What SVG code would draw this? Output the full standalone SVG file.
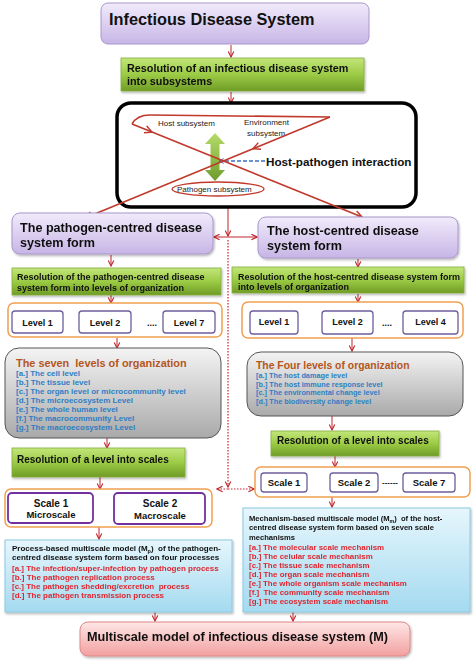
<svg xmlns="http://www.w3.org/2000/svg" width="474" height="662" viewBox="0 0 474 662">
<defs>
<linearGradient id="gPur" x1="0" y1="0" x2="0" y2="1"><stop offset="0" stop-color="#f1ebfb"/><stop offset="1" stop-color="#c7b5e6"/></linearGradient>
<linearGradient id="gGrn" x1="0" y1="0" x2="0" y2="1"><stop offset="0" stop-color="#c2e67a"/><stop offset="0.5" stop-color="#9ccb45"/><stop offset="1" stop-color="#6f9c26"/></linearGradient>
<linearGradient id="gGry" x1="0" y1="0" x2="0" y2="1"><stop offset="0" stop-color="#f4f4f4"/><stop offset="1" stop-color="#a9a9a9"/></linearGradient>
<linearGradient id="gBlu" x1="0" y1="0" x2="0" y2="1"><stop offset="0" stop-color="#e6f6fc"/><stop offset="1" stop-color="#a4daf0"/></linearGradient>
<linearGradient id="gPnk" x1="0" y1="0" x2="0" y2="1"><stop offset="0" stop-color="#fee6e6"/><stop offset="1" stop-color="#f2a0a0"/></linearGradient>
<linearGradient id="gArr" x1="0" y1="0" x2="0" y2="1"><stop offset="0" stop-color="#b6dc6a"/><stop offset="1" stop-color="#6e9c2c"/></linearGradient>
<filter id="sh" x="-10%" y="-10%" width="130%" height="140%"><feDropShadow dx="1" dy="1.5" stdDeviation="1" flood-color="#000" flood-opacity="0.3"/></filter>
<marker id="ah" viewBox="0 0 10 10" refX="9" refY="5" markerWidth="7" markerHeight="7" markerUnits="userSpaceOnUse" orient="auto-start-reverse"><path d="M1,1 L9,5 L1,9" fill="none" stroke="#c0272d" stroke-width="1.6"/></marker>
<marker id="ahL" viewBox="0 0 10 10" refX="9" refY="5" markerWidth="9" markerHeight="9" markerUnits="userSpaceOnUse" orient="auto"><path d="M1,1 L9,5 L1,9" fill="none" stroke="#c0392b" stroke-width="1.6"/></marker>
<marker id="ahB" viewBox="0 0 10 10" refX="9" refY="5" markerWidth="6" markerHeight="6" markerUnits="userSpaceOnUse" orient="auto"><path d="M1,1 L9,5 L1,9" fill="none" stroke="#3b6fc2" stroke-width="1.6"/></marker>
</defs>
<style>
text{font-family:"Liberation Sans",Arial,sans-serif;font-weight:bold;fill:#111}
.n{font-weight:normal;fill:#222}
.pur{fill:url(#gPur);stroke:#a898cc;stroke-width:1}
.grn{fill:url(#gGrn);stroke:#86ad3e;stroke-width:0.8}
.gry{fill:url(#gGry);stroke:#555;stroke-width:1}
.blu{fill:url(#gBlu);stroke:#8ccae2;stroke-width:1}
.org{fill:#fff;stroke:#f0a052;stroke-width:1.5}
.lvl{fill:#fff;stroke:#6e5d9e;stroke-width:1.3}
.scl{fill:#fff;stroke:#7030a0;stroke-width:1.8}
.rd{fill:#e0262f}
.bl{fill:#2f7ec4}
.ot{fill:#b5561d}
.ar{fill:none;stroke:#c0272d;stroke-width:1;marker-end:url(#ah)}
.dt{fill:none;stroke:#d0202a;stroke-width:1.2;stroke-dasharray:1.5,1.5}
.c{text-anchor:middle}
</style>

<g id="connectors">
<path class="ar" d="M231,45 V57"/>
<path class="ar" d="M231,92 V103"/>
<path class="ar" d="M111,255 V266"/>
<path class="ar" d="M111,295 V303"/>
<path class="ar" d="M358,259 V267"/>
<path class="ar" d="M358,294 V302"/>
<path class="ar" d="M117,338 V348"/>
<path class="ar" d="M352,338 V351"/>
<path class="ar" d="M107,438 V448"/>
<path class="ar" d="M332,416 V430"/>
<path class="ar" d="M100,477 V489"/>
<path class="ar" d="M335,456 V467"/>
<path class="ar" d="M99,527 V539"/>
<path class="ar" d="M332,497 V507"/>
<path class="ar" d="M155,612 V621"/>
<path class="ar" d="M293,612 V621"/>
<path class="ar" d="M298,321 H322" style="marker-start:url(#ah)"/>
<path class="ar" d="M93,508 H114" style="marker-start:url(#ah)"/>
<path class="ar" d="M307,483 H330" style="marker-start:url(#ah)"/>
<path class="ar" d="M228,196 V236"/>
<path class="ar" d="M228,237 H214" />
<path class="ar" d="M228,237 H257" />
<path class="dt" d="M228,240 V487" style="marker-end:url(#ah)"/>
<path class="dt" d="M228,489 H217" style="marker-end:url(#ah)"/>
<path class="dt" d="M228,489 H254" style="marker-end:url(#ah)"/>
</g>

<g id="title"><rect class="pur" x="101" y="3" width="268" height="41" rx="7"/><text x="109" y="25" font-size="16.3">Infectious Disease System</text></g>

<g id="resolution-subsystems" filter="url(#sh)"><rect class="grn" x="121" y="58" width="243" height="33"/><text x="127" y="72" font-size="10.8">Resolution of an infectious disease system</text><text x="127" y="85" font-size="10.8">into subsystems</text></g>

<g id="subsystems">
<rect x="117" y="103" width="299" height="104" rx="14" fill="#fff" stroke="#000" stroke-width="3.5"/>
<polygon points="215,133 225,144 219.5,144 219.5,170 225,170 215,181 205,170 210.5,170 210.5,144 205,144" fill="url(#gArr)"/>
<text class="n" x="158" y="126" font-size="8">Host subsystem</text>
<text class="n" x="244" y="125" font-size="8">Environment</text>
<text class="n" x="247" y="136" font-size="8">subsystem</text>
<ellipse cx="218" cy="189" rx="46" ry="7" fill="none" stroke="#c0392b" stroke-width="1.3"/>
<text class="n" x="177" y="192" font-size="8">Pathogen subsystem</text>
<path d="M265,161 H219" fill="none" stroke="#3b6fc2" stroke-width="1.3" stroke-dasharray="4,2" marker-end="url(#ahB)"/>
<text x="266" y="166" font-size="11.7">Host-pathogen interaction</text>
<path d="M132,124 Q137,115 150,115 L330,117" fill="none" stroke="#c0392b" stroke-width="1.6"/>
<path d="M132,124 L152,132.1 L362,217" fill="none" stroke="#c0392b" stroke-width="1.6" marker-mid="url(#ahL)" marker-end="url(#ahL)"/>
<path d="M330,117 L253,148.7 L85,218" fill="none" stroke="#c0392b" stroke-width="1.6" marker-mid="url(#ahL)" marker-end="url(#ahL)"/>
</g>

<g id="pathogen-form" filter="url(#sh)"><rect class="pur" x="12" y="213" width="201" height="41" rx="8"/><text x="20" y="232" font-size="12.6">The pathogen-centred disease</text><text x="20" y="247" font-size="12.6">system form</text></g>
<g id="host-form" filter="url(#sh)"><rect class="pur" x="258" y="217" width="200" height="41" rx="8"/><text x="267" y="235" font-size="12.6">The host-centred disease</text><text x="267" y="250" font-size="12.6">system form</text></g>

<g id="resolution-pathogen-levels" filter="url(#sh)"><rect class="grn" x="12" y="268" width="209" height="27"/><text x="17" y="280" font-size="9">Resolution of the pathogen-centred disease</text><text x="17" y="291" font-size="9">system form into levels of organization</text></g>
<g id="resolution-host-levels" filter="url(#sh)"><rect class="grn" x="232" y="267" width="232" height="26"/><text x="238" y="279.5" font-size="9">Resolution of the host-centred disease system form</text><text x="238" y="289.5" font-size="9">into levels of organization</text></g>

<g id="pathogen-levels">
<rect class="org" x="8" y="303" width="214" height="34" rx="6"/>
<rect class="lvl" x="12" y="311" width="51" height="22" rx="3"/><text class="c" x="37.5" y="325.5" font-size="9">Level 1</text>
<rect class="lvl" x="79" y="311" width="52" height="22" rx="3"/><text class="c" x="105" y="325.5" font-size="9">Level 2</text>
<text x="147" y="326" font-size="9">....</text>
<rect class="lvl" x="163" y="311" width="52" height="22" rx="3"/><text class="c" x="189" y="325.5" font-size="9">Level 7</text>
</g>
<g id="host-levels">
<rect class="org" x="242" y="302" width="221" height="36" rx="6"/>
<rect class="lvl" x="250" y="311" width="48" height="23" rx="3"/><text class="c" x="274" y="325" font-size="9">Level 1</text>
<rect class="lvl" x="322" y="311" width="51" height="23" rx="3"/><text class="c" x="347.5" y="325" font-size="9">Level 2</text>
<text x="382" y="326" font-size="9">....</text>
<rect class="lvl" x="403" y="311" width="55" height="23" rx="3"/><text class="c" x="430.5" y="325" font-size="9">Level 4</text>
</g>

<g id="seven-levels">
<rect class="gry" x="5" y="348" width="216" height="90" rx="14"/>
<text class="ot" x="16" y="367" font-size="10.9" xml:space="preserve">The seven  levels of organization</text>
<text class="bl" x="16" y="376" font-size="8">[a.] The cell level</text>
<text class="bl" x="16" y="385" font-size="8">[b.] The tissue level</text>
<text class="bl" x="16" y="394" font-size="8">[c.] The organ level or microcommunity level</text>
<text class="bl" x="16" y="403" font-size="8">[d.] The microecosystem Level</text>
<text class="bl" x="16" y="412" font-size="8">[e.] The whole human level</text>
<text class="bl" x="16" y="421" font-size="8">[f.] The macrocommunity Level</text>
<text class="bl" x="16" y="430" font-size="8">[g.] The macroecosystem Level</text>
</g>
<g id="four-levels">
<rect class="gry" x="247" y="352" width="216" height="64" rx="14"/>
<text class="ot" x="256" y="369" font-size="10.4">The Four levels of organization</text>
<text class="bl" x="256" y="378" font-size="7.3">[a.] The host damage level</text>
<text class="bl" x="256" y="386.6" font-size="7.3">[b.] The host immune response level</text>
<text class="bl" x="256" y="395.2" font-size="7.3">[c.] The environmental change level</text>
<text class="bl" x="256" y="403.8" font-size="7.3">[d.] The biodiversity change level</text>
</g>

<g id="resolution-scales-left" filter="url(#sh)"><rect class="grn" x="12" y="448" width="173" height="29"/><text x="17" y="463" font-size="10">Resolution of a level into scales</text></g>
<g id="resolution-scales-right" filter="url(#sh)"><rect class="grn" x="271" y="431" width="168" height="25"/><text x="277" y="444" font-size="10">Resolution of a level into scales</text></g>

<g id="pathogen-scales">
<rect class="org" x="5" y="489" width="207" height="38" rx="6"/>
<rect class="scl" x="8" y="493" width="85" height="30" rx="4"/><text class="c" x="51" y="507" font-size="10">Scale 1</text><text class="c" x="51" y="518" font-size="9.5">Microscale</text>
<rect class="scl" x="114" y="493" width="91" height="31" rx="4"/><text class="c" x="160" y="507" font-size="10">Scale 2</text><text class="c" x="160" y="518.5" font-size="9.5">Macroscale</text>
</g>
<g id="host-scales">
<rect class="org" x="255" y="467" width="215" height="30" rx="6"/>
<rect class="lvl" x="261" y="473" width="46" height="19" rx="3"/><text class="c" x="284" y="486" font-size="9.5">Scale 1</text>
<rect class="lvl" x="330" y="473" width="48" height="19" rx="3"/><text class="c" x="354" y="486" font-size="9.5">Scale 2</text>
<text x="382" y="485" font-size="8">------</text>
<rect class="lvl" x="403" y="473" width="52" height="19" rx="3"/><text class="c" x="429" y="486" font-size="9.5">Scale 7</text>
</g>

<g id="process-model" filter="url(#sh)">
<rect class="blu" x="5" y="540" width="227" height="72"/>
<text x="12" y="551" font-size="8" xml:space="preserve">Process-based multiscale model (M<tspan font-size="5.5" dy="1.5">p</tspan><tspan dy="-1.5">)  of the pathogen-</tspan></text>
<text x="12" y="560" font-size="8">centred disease system form based on four processes</text>
<text class="rd" x="12" y="571" font-size="8">[a.] The infection/super-infection by pathogen process</text>
<text class="rd" x="12" y="580" font-size="8">[b.] The pathogen replication process</text>
<text class="rd" x="12" y="589" font-size="8" xml:space="preserve">[c.] The pathogen shedding/excretion  process</text>
<text class="rd" x="12" y="598" font-size="8">[d.] The pathogen transmission process</text>
</g>
<g id="mechanism-model" filter="url(#sh)">
<rect class="blu" x="243" y="508" width="227" height="104"/>
<text x="249" y="521" font-size="7.6" xml:space="preserve">Mechanism-based multiscale model (M<tspan font-size="5.2" dy="1.5">m</tspan><tspan dy="-1.5">)  of the host-</tspan></text>
<text x="249" y="530" font-size="7.6">centred disease system form based on seven scale</text>
<text x="249" y="540" font-size="7.6">mechanisms</text>
<text class="rd" x="249" y="550" font-size="7.9">[a.] The molecular scale mechanism</text>
<text class="rd" x="249" y="559" font-size="7.9">[b.] The celular scale mechanism</text>
<text class="rd" x="249" y="568" font-size="7.9">[c.] The tissue scale mechanism</text>
<text class="rd" x="249" y="577" font-size="7.9">[d.] The organ scale mechanism</text>
<text class="rd" x="249" y="586" font-size="7.9">[e.] The whole organism scale mechanism</text>
<text class="rd" x="249" y="595" font-size="7.9" xml:space="preserve">[f.]  The community scale mechanism</text>
<text class="rd" x="249" y="604" font-size="7.9">[g.] The ecosystem scale mechanism</text>
</g>

<g id="multiscale-model" filter="url(#sh)"><rect x="80" y="622" width="330" height="34" rx="8" fill="url(#gPnk)" stroke="#e28888" stroke-width="1"/><text x="87" y="641" font-size="12.7">Multiscale model of infectious disease system (M)</text></g>
</svg>
